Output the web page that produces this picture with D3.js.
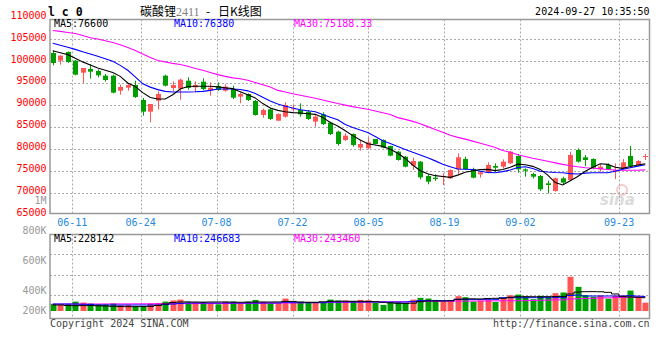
<!DOCTYPE html>
<html><head><meta charset="utf-8">
<script src="https://cdn.jsdelivr.net/npm/d3@7/dist/d3.min.js"></script>
<style>body{margin:0;background:#fff}svg{display:block}</style>
</head><body>
<svg id="chart" width="660" height="360"></svg>
<script>
// ---------- DATA ----------
const dates = ["06-05","06-06","06-07","06-11","06-12","06-13","06-14","06-17","06-18","06-19","06-20","06-21","06-24","06-25","06-26","06-27","06-28",
"07-01","07-02","07-03","07-04","07-05","07-08","07-09","07-10","07-11","07-12","07-15","07-16","07-17","07-18","07-19","07-22","07-23","07-24","07-25","07-26","07-29","07-30","07-31",
"08-01","08-02","08-05","08-06","08-07","08-08","08-09","08-12","08-13","08-14","08-15","08-16","08-19","08-20","08-21","08-22","08-23","08-26","08-27","08-28","08-29","08-30",
"09-02","09-03","09-04","09-05","09-06","09-09","09-10","09-11","09-12","09-13","09-18","09-19","09-20","09-23","09-24","09-25","09-26","09-27"];
const openP = [101820,100080,102050,100080,97340,98180,97720,96660,96660,93240,93930,94530,91120,88460,90960,96660,93850,93700,95520,94000,
95290,93320,94310,93240,93620,91880,92480,90890,87700,88990,86410,87320,89070,88840,88460,86180,87850,85950,83900,82010,
83370,80260,80110,82230,82010,80640,79350,78210,76160,77070,73800,73420,73580,73270,75320,77680,75400,74180,74640,76080,
75930,76690,78360,75320,74260,73800,72130,70390,73270,72890,79730,78060,77680,75320,76310,74790,75550,78360,76310,78210];
const highP = [102360,101290,102200,100230,98410,99320,98100,97040,96890,94610,94990,95520,91570,90210,93090,96890,95370,95980,96280,95370,
96050,95140,95140,94690,94380,92860,92640,91120,89220,89370,88080,90590,89980,90360,88840,87700,88310,86180,84130,83500,
83520,82010,82610,82230,82160,80710,79500,78360,77980,77220,74180,74180,74410,75320,78970,78210,75700,74940,76920,76690,
77600,79500,78820,75550,74560,74030,72740,73420,73650,79350,80110,78590,77830,76460,76690,76690,77680,80640,77450,78820];
const lowP = [99020,99170,99540,96740,94990,95980,96280,95290,92640,92330,93240,91570,87550,86030,88920,94230,93090,91190,93470,92860,
93390,92100,93170,93010,91340,90360,90890,87550,87090,86560,86330,87090,88460,87320,86560,85040,85420,83140,80710,81780,
80490,79570,79880,81020,80110,78280,77300,75780,75170,73050,71910,72670,71750,73120,74260,75170,73270,73420,74410,74790,
75550,76540,74560,73650,73270,70390,69860,70240,71980,72740,76840,76080,75320,74790,75170,73120,75400,75930,76160,77450];
const closeP = [99540,101220,99770,96890,98410,97570,96740,95670,92790,94080,94530,91800,88460,90210,92480,94380,94530,95750,93850,94530,
93620,93930,93390,94150,91650,92480,91120,87700,88840,86790,87930,89980,89220,87850,86790,87320,85650,83370,81090,82990,
80870,81090,81470,81090,80260,78440,77450,75930,77220,73500,72510,73120,73800,75170,78060,75400,73420,74640,76310,75700,
77070,79350,75320,75020,73650,70770,71750,73270,72290,78590,77070,77450,75700,75930,75320,75170,76920,76080,77220,78360];
const ma5 = [102330,101900,101450,100600,99800,99100,98420,97900,97400,96500,95000,94200,92800,91700,91340,91350,92300,93600,94200,94250,
94250,94250,94100,93900,93700,93000,92300,91600,90300,89300,88750,88450,88250,88150,88000,87850,87150,86000,85200,84100,
83000,82000,81150,80850,80550,79900,79000,77800,76300,75000,74300,73880,73700,73500,74000,74640,75000,75250,75320,75020,
75300,75800,76500,76350,76000,75300,74000,72300,71750,72700,73700,74900,75800,76600,76450,75800,75550,75950,76300,76600];
const ma10 = [104050,103600,103150,102650,102100,101600,101080,100500,99920,99000,97900,96400,94800,94050,93480,93080,92950,92940,92940,92980,
93080,93300,93620,93620,93620,93500,93200,92600,91750,90900,90200,89700,89300,88900,88650,88450,87800,87200,86600,85550,
84850,84300,83700,82800,81850,81200,80500,79850,79200,78600,77950,77250,76500,75900,75400,75350,75300,74900,74620,74560,
74800,75150,75750,75900,75500,74900,74700,74600,74550,74350,74250,74450,74560,74560,74560,74900,75350,75700,76050,76380];
const ma30 = [106950,106750,106500,106250,105800,105300,105000,104600,104200,103700,103100,102400,101600,100800,100100,99800,99450,99200,98800,98300,
97900,97400,96900,96500,96150,95950,95600,95100,94600,94100,93300,92950,92550,92200,91850,91500,91100,90700,90300,89950,
89600,89300,89000,88600,88200,87800,87100,86700,86250,85700,85050,84400,83750,83100,82600,82200,81750,81250,80800,80300,
79600,79200,78650,78250,77850,77500,77150,76800,76450,76150,75900,75700,75580,75450,75300,75170,75120,75100,75120,75188.33];
const volume = [122000,105000,122000,161000,145000,130000,115000,115000,130000,100000,105000,82000,82000,128000,138000,161000,183000,196000,150000,150000,
155000,138000,115000,161000,161000,128000,161000,190000,155000,128000,128000,214000,138000,155000,155000,138000,138000,196000,178000,178000,
172000,190000,183000,138000,105000,150000,150000,128000,196000,225000,214000,190000,155000,178000,254000,237000,161000,178000,190000,155000,
225000,270000,282000,237000,202000,260000,237000,305000,317000,587000,414000,274000,245000,269000,211000,262000,269000,350000,235000,142000];
const volMa5 = [103000,103000,95000,91000,92000,95000,90000,85000,80000,76000,74000,74000,76000,80000,95000,120000,145000,154000,156000,154000,
152000,154000,155000,154000,152000,150000,152000,154000,155000,154000,155000,166000,164000,155000,150000,150000,158000,166000,168000,168000,
166000,166000,165000,160000,150000,140000,132000,130000,135000,160000,171000,172000,171000,175000,200000,206000,208000,206000,215000,218000,
218000,235000,245000,246000,245000,244000,246000,248000,250000,292000,325000,331000,332000,330000,320000,292000,245000,240000,235000,228142];
const volMa10 = [120000,120000,120000,120000,115000,110000,103000,103000,103000,103000,103000,103000,103000,103000,103000,110000,120000,130000,137000,137000,
137000,137000,137000,137000,137000,137000,137000,137000,137000,137000,137000,150000,142000,142000,142000,142000,142000,154000,154000,154000,
154000,154000,154000,154000,154000,154000,154000,154000,165000,177000,177000,177000,177000,177000,200000,200000,200000,200000,200000,200000,
228000,228000,228000,228000,228000,228000,228000,228000,228000,265000,274000,257000,257000,257000,257000,257000,257000,262000,255000,246683];
const volMa30 = [118000,118000,119000,119000,120000,120000,120000,121000,121000,122000,122000,123000,123000,124000,124000,125000,125000,126000,126000,127000,
127000,128000,128000,129000,130000,130000,131000,132000,133000,134000,135000,137000,139000,141000,143000,145000,147000,148000,149000,150000,
151000,152000,153000,154000,155000,156000,157000,158000,159000,160000,165000,166000,167000,168000,169000,170000,171000,172000,173000,174000,
175000,175000,176000,177000,180000,183000,186000,189000,192000,205000,210000,214000,218000,222000,226000,230000,234000,237000,240000,243460];
const priceTicks = [65000,70000,75000,80000,85000,90000,95000,100000,105000,110000];
const dateTicks = ["06-11","06-24","07-08","07-22","08-05","08-19","09-02","09-23"];
const volTicks = [800000,600000,400000,200000];
const volTickLabels = ["800K","600K","400K","200K"];

// ---------- SETUP ----------
const svg = d3.select("#chart");
const MONO = "'DejaVu Sans Mono', monospace";
const UP = "#ff5555", DOWN = "#009f00", GRID = "#aaaaaa", FRAME = "#999999";
const L = 50, R = 649.5, PT = 19.5, PB = 213.5, VT = 234.5, VB = 318.5;

const xBand = d3.scaleBand().domain(dates).range([49, 649]).padding(0);
const xc = d => xBand(d) + xBand.bandwidth() / 2;
const xGrid = d3.scalePoint().domain(dates).range([49.5, 649.5]);
const y = d3.scaleLinear().domain([65000, 110000]).range([214.65, 17.1]);
const vy = d3.scaleLinear().domain([0, 1315000]).range([311, 234.3]);
const vLabel = d3.scaleLinear().domain([200000, 400000, 800000]).range([310.5, 290.5, 230.5]);

const idx = dates.map((d, i) => i);

// ---------- GRID ----------
const g = svg.append("g");
g.selectAll(".hg").data(priceTicks.filter(t => t > 65000 && t < 110000)).join("line")
  .attr("x1", L).attr("x2", R).attr("y1", d => Math.round(y(d)) + 0.5).attr("y2", d => Math.round(y(d)) + 0.5)
  .attr("stroke", GRID).attr("stroke-dasharray", "2,2");
g.selectAll(".vg").data(dateTicks).join("line")
  .attr("x1", d => Math.round(xGrid(d)) + 0.5).attr("x2", d => Math.round(xGrid(d)) + 0.5)
  .attr("y1", PT).attr("y2", PB).attr("stroke", GRID).attr("stroke-dasharray", "2,2");
[254.5, 275.5, 295.5].forEach(yy => g.append("line").attr("x1", L).attr("x2", R).attr("y1", yy).attr("y2", yy)
  .attr("stroke", GRID).attr("stroke-dasharray", "2,2"));
g.selectAll(".vg2").data(dateTicks).join("line")
  .attr("x1", d => Math.round(xGrid(d)) + 0.5).attr("x2", d => Math.round(xGrid(d)) + 0.5)
  .attr("y1", VT).attr("y2", VB).attr("stroke", GRID).attr("stroke-dasharray", "2,2");

// watermark
const wm = svg.append("g").attr("opacity", 0.35);
wm.append("circle").attr("cx", 622).attr("cy", 190).attr("r", 5).attr("fill", "none").attr("stroke", "#e07070").attr("stroke-width", 2);
wm.append("text").attr("x", 600).attr("y", 205).attr("font-family", "'DejaVu Sans'").attr("font-style", "italic")
  .attr("font-weight", "bold").attr("font-size", 15).attr("fill", "#999").text("sina");

// ---------- CANDLES ----------
const isUp = i => closeP[i] >= openP[i];
const cg = svg.append("g");
cg.selectAll(".wick").data(idx).join("line")
  .attr("x1", i => Math.round(xc(dates[i])) + 0.5).attr("x2", i => Math.round(xc(dates[i])) + 0.5)
  .attr("y1", i => y(highP[i])).attr("y2", i => y(lowP[i]))
  .attr("stroke", i => isUp(i) ? UP : DOWN);
cg.selectAll(".body").data(idx).join("rect")
  .attr("x", i => Math.round(xc(dates[i])) - 2)
  .attr("width", 5)
  .attr("y", i => y(Math.max(openP[i], closeP[i])))
  .attr("height", i => Math.max(1, Math.abs(y(openP[i]) - y(closeP[i]))))
  .attr("fill", i => isUp(i) ? UP : DOWN);

// MA lines
const line = arr => d3.line().x((v, i) => xc(dates[i])).y(v => y(v))(arr);
[[ma30, "#ff00ff"], [ma10, "#0000ff"], [ma5, "#000000"]].forEach(([a, c]) =>
  svg.append("path").attr("d", line(a)).attr("fill", "none").attr("stroke", c).attr("stroke-width", 1.1));

// ---------- VOLUME ----------
svg.append("g").selectAll("rect").data(idx).join("rect")
  .attr("x", i => Math.round(xc(dates[i])) - 2.5).attr("width", 6)
  .attr("y", i => vy(volume[i])).attr("height", i => vy(0) - vy(volume[i]))
  .attr("fill", i => isUp(i) ? UP : DOWN);
const vline = arr => d3.line().curve(d3.curveStep).x((v, i) => xc(dates[i])).y(v => vy(v))(arr);
[[volMa30, "#ff00ff"], [volMa10, "#0000ff"], [volMa5, "#000000"]].forEach(([a, c]) =>
  svg.append("path").attr("d", vline(a)).attr("fill", "none").attr("stroke", c).attr("stroke-width", 1));

// ---------- FRAMES ----------
const fr = svg.append("g").attr("stroke", FRAME).attr("fill", "none");
fr.append("rect").attr("x", L).attr("y", PT).attr("width", R - L).attr("height", PB - PT).attr("stroke-width", 1.5);
fr.append("rect").attr("x", L).attr("y", VT).attr("width", R - L).attr("height", VB - VT).attr("stroke-width", 1.5);

// ---------- AXIS LABELS ----------
svg.selectAll(".pl").data(priceTicks).join("text")
  .attr("x", 46.5).attr("y", d => y(d) + 1.5).attr("text-anchor", "end")
  .attr("font-family", MONO).attr("font-size", 10).attr("fill", "#ff0000").text(d => d);
svg.append("text").attr("x", 46.5).attr("y", 204).attr("text-anchor", "end")
  .attr("font-family", MONO).attr("font-size", 10).attr("fill", "#999").text("1M");
svg.selectAll(".dl").data(dateTicks).join("text")
  .attr("x", d => xGrid(d)).attr("y", 225.5).attr("text-anchor", "middle")
  .attr("font-family", MONO).attr("font-size", 10).attr("fill", "#1e8ae0").text(d => d);
svg.selectAll(".vl").data(volTicks).join("text")
  .attr("x", 46.5).attr("y", d => vLabel(d) + 3.5).attr("text-anchor", "end")
  .attr("font-family", MONO).attr("font-size", 10).attr("fill", "#999").text((d, i) => volTickLabels[i]);

// ---------- LEGENDS ----------
const leg = (yy, items) => items.forEach(([x, t, c]) =>
  svg.append("text").attr("x", x).attr("y", yy).attr("font-family", MONO).attr("font-size", 10).attr("fill", c).text(t));
leg(27, [[54, "MA5:" + ma5[79], "#000"], [174, "MA10:" + ma10[79], "#0000ff"], [294, "MA30:" + ma30[79].toFixed(2), "#ff00ff"]]);
leg(242, [[54, "MA5:" + volMa5[79], "#000"], [174, "MA10:" + volMa10[79], "#0000ff"], [294, "MA30:" + volMa30[79], "#ff00ff"]]);

// ---------- HEADER ----------
svg.append("text").attr("x", 48).attr("y", 15.5).attr("font-family", MONO).attr("font-weight", "bold")
  .attr("font-size", 11.5).attr("fill", "#000").attr("xml:space", "preserve").text("l c 0");
const tt = svg.append("text").attr("x", 140).attr("y", 15.5).attr("font-family", "'Noto Sans CJK SC'").attr("font-size", 12).attr("fill", "#000");
tt.append("tspan").text("碳酸锂");
tt.append("tspan").attr("font-family", "'Liberation Serif'").attr("fill", "#808080").text("2411");
tt.append("tspan").attr("x", 206).text("-");
tt.append("tspan").attr("x", 218).text("日K线图");
svg.append("text").attr("x", 649.5).attr("y", 15).attr("text-anchor", "end").attr("font-family", MONO)
  .attr("font-size", 10).attr("fill", "#000").text("2024-09-27 10:35:50");

// ---------- FOOTER ----------
svg.append("text").attr("x", 50).attr("y", 326.7).attr("font-family", MONO).attr("font-size", 10).attr("fill", "#444").text("Copyright 2024 SINA.COM");
svg.append("text").attr("x", 649.5).attr("y", 326.7).attr("text-anchor", "end").attr("font-family", MONO).attr("font-size", 10).attr("fill", "#444").text("http://finance.sina.com.cn");
</script>
</body></html>
